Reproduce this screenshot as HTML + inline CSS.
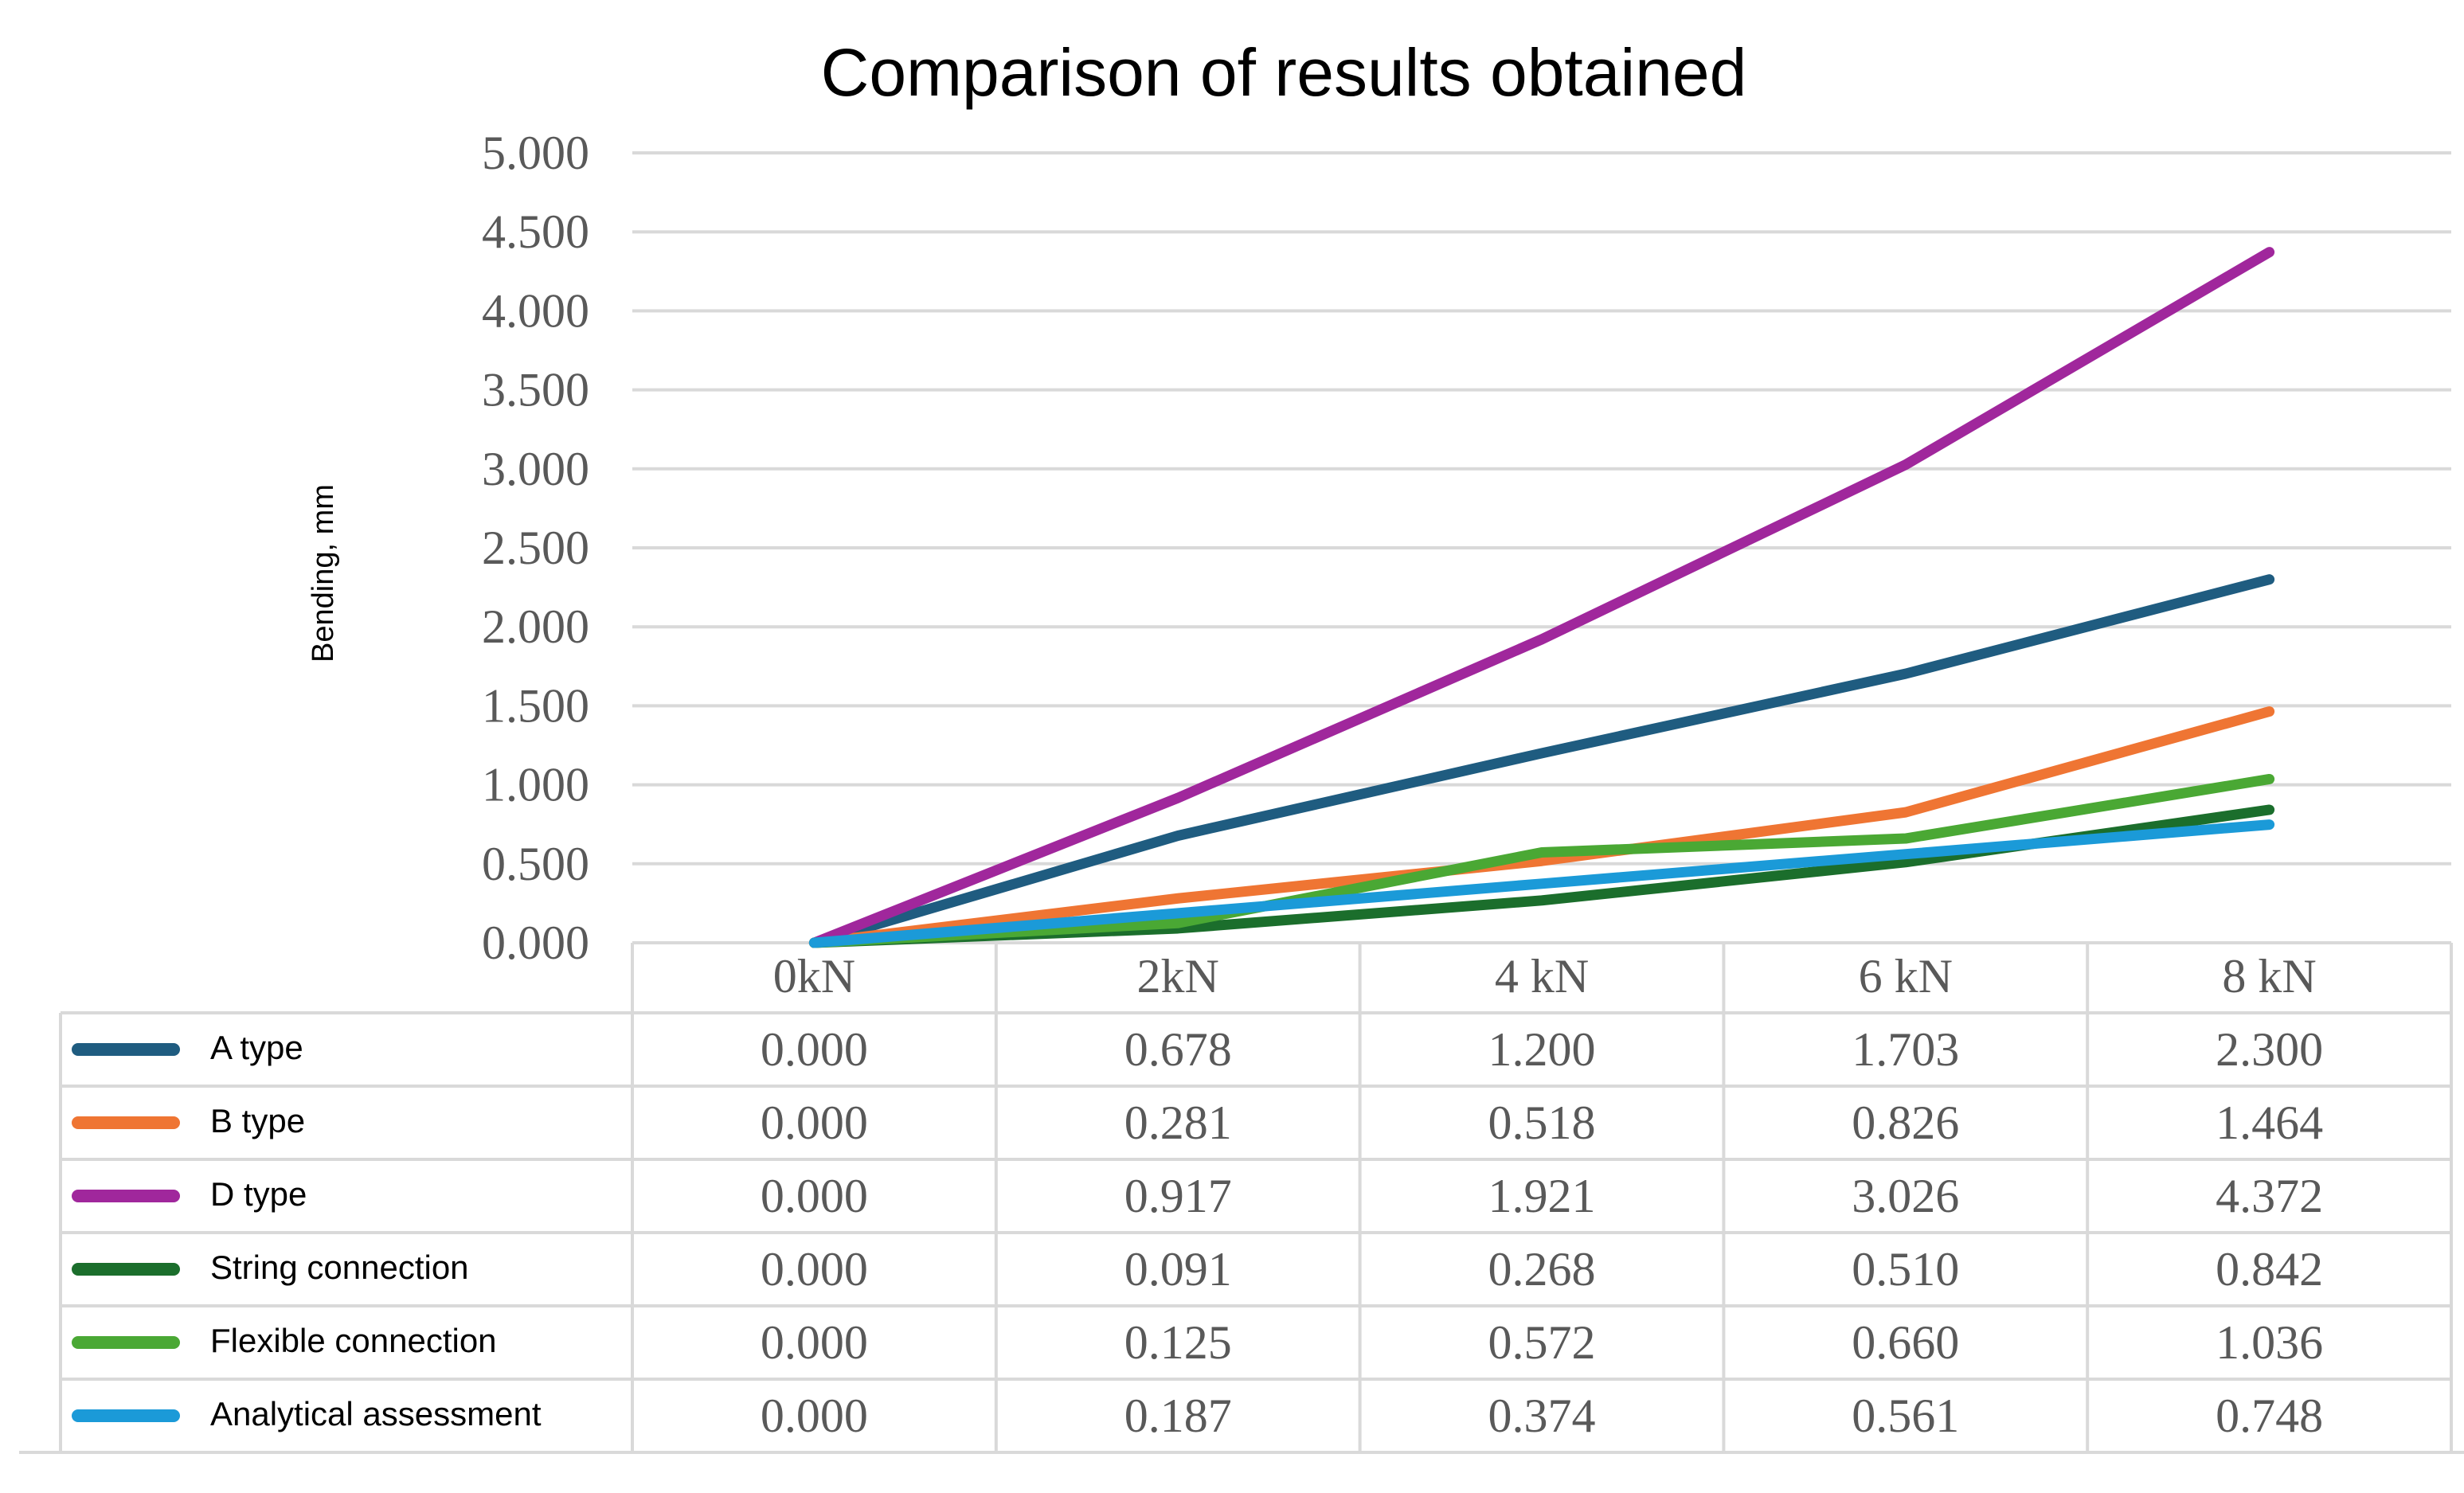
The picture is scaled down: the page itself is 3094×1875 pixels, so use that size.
<!DOCTYPE html>
<html><head><meta charset="utf-8"><style>
body{margin:0;background:#fff}
svg text{font-family:"Liberation Sans",sans-serif}
.serif{font-family:"Liberation Serif",serif}
</style></head><body>
<svg id="c" width="3094" height="1870" viewBox="0 0 3094 1870" xmlns="http://www.w3.org/2000/svg">
<rect width="3094" height="1870" fill="#fff"/>
<text x="1612" y="120" font-size="84" text-anchor="middle" fill="#000">Comparison of results obtained</text>
<text transform="translate(418,720) rotate(-90)" font-size="38" text-anchor="middle" fill="#000">Bending, mm</text>
<g id="grid"></g><g id="table"></g><g id="lines"></g>
</svg>
<script>
const categories=["0kN","2kN","4 kN","6 kN","8 kN"];
const seriesNames=["A type","B type","D type","String connection","Flexible connection","Analytical assessment"];
const colors=["#1f5c80","#ef7533","#a0279c","#1b6e2c","#4aa834","#1b9ad8"];
const aType=[0.000,0.678,1.200,1.703,2.300];
const bType=[0.000,0.281,0.518,0.826,1.464];
const dType=[0.000,0.917,1.921,3.026,4.372];
const stringConn=[0.000,0.091,0.268,0.510,0.842];
const flexConn=[0.000,0.125,0.572,0.660,1.036];
const analytical=[0.000,0.187,0.374,0.561,0.748];
const yTicks=[0,0.5,1,1.5,2,2.5,3,3.5,4,4.5,5];
const series=[aType,bType,dType,stringConn,flexConn,analytical];
const NS="http://www.w3.org/2000/svg";
const L=794,R=3078,Y0=1184,Y5=192;
const colW=(R-L)/categories.length;
const xs=i=>L+colW*(i+0.5);
const ys=v=>Y0-(v/5)*(Y0-Y5);
function mk(tag,attrs,parent,txt){const e=document.createElementNS(NS,tag);for(const k in attrs)e.setAttribute(k,attrs[k]);if(txt!==undefined)e.textContent=txt;parent.appendChild(e);return e;}
const grid=document.getElementById('grid'),table=document.getElementById('table'),lines=document.getElementById('lines');
yTicks.forEach(t=>{
  const g=mk('line',{x1:L,x2:R,y1:ys(t),y2:ys(t),stroke:'#d9d9d9','stroke-width':4},grid);
  
  
  const tx=mk('text',{x:740,y:ys(t)+20,'font-size':60,'text-anchor':'end',fill:'#595959',class:'serif'},grid,t.toFixed(3));
  
  
});
const rowTop=1184,hdrH=88,rowH=92,tl=76;
const bottom=rowTop+hdrH+rowH*series.length;
const st={stroke:'#d9d9d9','stroke-width':4};
mk('line',Object.assign({x1:L,x2:R,y1:rowTop,y2:rowTop},st),table);
for(let r=0;r<=series.length;r++){const y=rowTop+hdrH+rowH*r;mk('line',Object.assign({x1:r==series.length?24:tl,x2:r==series.length?3100:R,y1:y,y2:y},st),table);}
for(let c=0;c<=categories.length;c++){const x=L+colW*c;mk('line',Object.assign({x1:x,x2:x,y1:rowTop,y2:bottom},st),table);}
mk('line',Object.assign({x1:tl,x2:tl,y1:rowTop+hdrH,y2:bottom},st),table);
categories.forEach((c,i)=>{
  const t=mk('text',{x:xs(i),y:rowTop+62,'font-size':60,'text-anchor':'middle',fill:'#595959',class:'serif'},table,c);
  
  
});
series.forEach((s,r)=>{
  const yc=rowTop+hdrH+rowH*r+rowH/2;
  const sw=mk('line',{x1:98,x2:218,y1:yc,y2:yc,stroke:colors[r],'stroke-width':16,'stroke-linecap':'round'},table);
  
  
  const lt=mk('text',{x:264,y:yc+12,'font-size':42,fill:'#000'},table,seriesNames[r]);
  
  
  s.forEach((v,i)=>{
    const t=mk('text',{x:xs(i),y:yc+20,'font-size':60,'text-anchor':'middle',fill:'#595959',class:'serif'},table,v.toFixed(3));
    
    
  });
});
series.forEach((s,r)=>{
  const p=mk('polyline',{points:s.map((v,i)=>xs(i)+','+ys(v)).join(' '),fill:'none',stroke:colors[r],'stroke-width':13,'stroke-linejoin':'round','stroke-linecap':'round'},lines);
  
  
});
</script>
</body></html>
